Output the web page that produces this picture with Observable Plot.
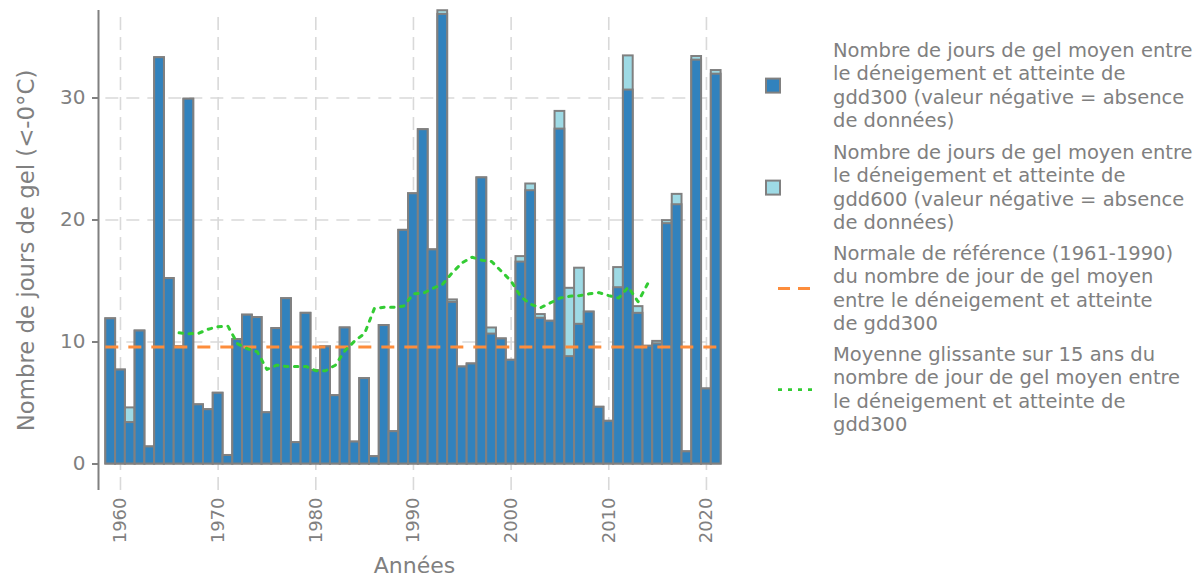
<!DOCTYPE html>
<html>
<head>
<meta charset="utf-8">
<script src="https://cdn.jsdelivr.net/npm/d3@7"></script>
<script src="https://cdn.jsdelivr.net/npm/@observablehq/plot@0.6"></script>
<style>
  html, body { margin: 0; padding: 0; background: #fff; }
  #wrap { position: relative; width: 1204px; height: 578px; font-family: "DejaVu Sans", sans-serif; }
  #legend { position: absolute; left: 0; top: 0; width: 1204px; height: 578px; pointer-events: none; }
  .lg { position: absolute; left: 833px; color: #808080; font-size: 19.5px; line-height: 23.3px; white-space: nowrap; }
  #legsym { position: absolute; left: 0; top: 0; }
</style>
</head>
<body>
<div id="wrap"></div>
<script>
// ---- data ----
const years = [1959,1960,1961,1962,1963,1964,1965,1966,1967,1968,1969,1970,1971,1972,1973,1974,1975,1976,1977,1978,1979,
  1980,1981,1982,1983,1984,1985,1986,1987,1988,1989,1990,1991,1992,1993,1994,1995,1996,1997,1998,1999,
  2000,2001,2002,2003,2004,2005,2006,2007,2008,2009,2010,2011,2012,2013,2014,2015,2016,2017,2018,2019,2020,2021];
const gdd300 = [11.9,7.7,3.4,10.9,1.4,33.3,15.2,9.6,29.9,4.85,4.45,5.8,0.7,10.2,12.2,12.0,4.2,11.1,13.55,1.75,12.35,
  7.65,9.6,5.6,11.15,1.8,7.0,0.6,11.35,2.65,19.15,22.15,27.4,17.55,36.85,13.25,7.95,8.2,23.45,10.65,10.25,
  8.5,16.55,22.4,11.95,11.7,27.45,8.8,11.45,12.45,4.65,3.5,14.45,30.65,12.35,9.65,9.85,19.7,21.25,1.0,33.1,6.15,31.95];
const gdd600 = [11.9,7.7,4.6,10.9,1.4,33.3,15.2,9.6,29.9,4.85,4.45,5.8,0.7,10.2,12.2,12.0,4.2,11.1,13.55,1.75,12.35,
  7.65,9.6,5.6,11.15,1.8,7.0,0.6,11.35,2.65,19.15,22.15,27.4,17.55,37.15,13.45,7.95,8.2,23.45,11.15,10.25,
  8.5,17.0,22.95,12.25,11.7,28.9,14.4,16.05,12.45,4.65,3.5,16.1,33.45,12.9,9.65,10.05,19.95,22.1,1.0,33.4,6.15,32.25];
const maYears = [1966,1967,1968,1969,1970,1971,1972,1973,1974,1975,1976,1977,1978,1979,1980,1981,1982,1983,1984,1985,
  1986,1987,1988,1989,1990,1991,1992,1993,1994,1995,1996,1997,1998,1999,2000,2001,2002,2003,2004,2005,
  2006,2007,2008,2009,2010,2011,2012,2013,2014];
const maValues = [10.75,10.67,10.72,11.05,11.25,11.3,9.85,9.45,9.2,7.75,8.1,8.0,8.0,8.0,7.65,7.65,8.1,9.3,10.1,10.7,
  12.75,12.85,12.85,12.95,13.95,14.0,14.4,14.75,15.7,16.5,16.95,16.7,16.6,15.8,15.0,13.7,13.1,12.8,13.2,13.6,
  13.75,13.8,13.95,14.05,13.8,13.6,14.5,13.3,14.8];
const normalValue = 9.6;
const yTicks = [0, 10, 20, 30];
const xTicks = [1960, 1970, 1980, 1990, 2000, 2010, 2020];
const yLabel = "Nombre de jours de gel (<-0°C)";
const xLabel = "Années";
const legendLabels = [
  ["Nombre de jours de gel moyen entre", "le déneigement et atteinte de", "gdd300 (valeur négative = absence", "de données)"],
  ["Nombre de jours de gel moyen entre", "le déneigement et atteinte de", "gdd600 (valeur négative = absence", "de données)"],
  ["Normale de référence (1961-1990)", "du nombre de jour de gel moyen", "entre le déneigement et atteinte", "de gdd300"],
  ["Moyenne glissante sur 15 ans du", "nombre de jour de gel moyen entre", "le déneigement et atteinte de", "gdd300"]
];
const colors = { gdd300: "#3182bd", gdd600: "#9edae5", normal: "#fd8d3c", ma: "#33cc33", outline: "#808080", grid: "#d9d9d9", text: "#808080" };

// ---- tables ----
const table = years.map((y, i) => ({ year: y, v300: gdd300[i], v600: gdd600[i] }));
const maTable = maYears.map((y, i) => ({ year: y, v: maValues[i] }));
const xFirst = years[0] - 0.5, xLast = years[years.length - 1] + 0.5;
const xDomain = [1957.75, 2021.85];
const yDomain = [-2.17, 37.17];

const chart = Plot.plot({
  width: 1204,
  height: 578,
  marginLeft: 98,
  marginRight: 480,
  marginTop: 10,
  marginBottom: 88,
  style: { fontFamily: "DejaVu Sans", color: colors.text, background: "white", overflow: "visible" },
  x: { domain: xDomain },
  y: { domain: yDomain },
  marks: [
    Plot.ruleX(xTicks, { y1: () => yDomain[0], y2: () => yDomain[1], stroke: colors.grid, strokeWidth: 1.6, strokeDasharray: "13,7" }),
    Plot.ruleY(yTicks.slice(1), { x1: () => xFirst, x2: () => xLast, stroke: colors.grid, strokeWidth: 1.6, strokeDasharray: "13,8" }),
    Plot.rect(table, { x1: d => d.year - 0.5, x2: d => d.year + 0.5, y1: () => 0, y2: "v600", fill: colors.gdd600, stroke: colors.outline, strokeWidth: 2 }),
    Plot.rect(table, { x1: d => d.year - 0.5, x2: d => d.year + 0.5, y1: () => 0, y2: "v300", fill: colors.gdd300, stroke: colors.outline, strokeWidth: 2 }),
    Plot.ruleY([normalValue], { x1: () => xFirst, x2: () => xLast, stroke: colors.normal, strokeWidth: 3, strokeDasharray: "13,10" }),
    Plot.line(maTable, { x: "year", y: "v", stroke: colors.ma, strokeWidth: 3, strokeDasharray: "3.5,6.5" }),
    Plot.ruleX([xDomain[0]], { y1: () => yDomain[0], y2: () => yDomain[1], stroke: colors.outline, strokeWidth: 2 }),
    Plot.axisY(yTicks, { tickSize: 6, tickPadding: 7, fontSize: 20, strokeWidth: 2, label: null }),
    Plot.axisX(xTicks, { tickSize: 0, tickPadding: 7, tickRotate: -90, fontSize: 18, label: null, tickFormat: d => String(d) }),
    Plot.text([yLabel], { text: d => d, frameAnchor: "left", textAnchor: "middle", lineAnchor: "middle", dx: -72, dy: 0, rotate: -90, fontSize: 22.8, fill: colors.text }),
    Plot.text([xLabel], { text: d => d, frameAnchor: "bottom", textAnchor: "middle", lineAnchor: "middle", dx: 3, dy: 75, fontSize: 22, fill: colors.text })
  ]
});

const wrap = document.getElementById("wrap");
wrap.appendChild(chart);

// ---- legend ----
const legend = document.createElement("div");
legend.id = "legend";
const blockTops = [39, 141, 242, 343];
legendLabels.forEach((lines, i) => {
  const d = document.createElement("div");
  d.className = "lg";
  d.style.top = blockTops[i] + "px";
  d.innerHTML = lines.map(l => l.replace(/&/g, "&amp;").replace(/</g, "&lt;")).join("<br>");
  legend.appendChild(d);
});
const ns = "http://www.w3.org/2000/svg";
const sym = document.createElementNS(ns, "svg");
sym.setAttribute("id", "legsym");
sym.setAttribute("width", "1204");
sym.setAttribute("height", "578");
function el(tag, attrs) { const e = document.createElementNS(ns, tag); for (const k in attrs) e.setAttribute(k, attrs[k]); sym.appendChild(e); return e; }
const centers = blockTops.map(t => t + 2 * 23.3);
el("rect", { x: 766, y: centers[0] - 7, width: 14, height: 14, fill: colors.gdd300, stroke: colors.outline, "stroke-width": 2 });
el("rect", { x: 766, y: centers[1] - 7, width: 14, height: 14, fill: colors.gdd600, stroke: colors.outline, "stroke-width": 2 });
el("line", { x1: 778, x2: 810, y1: centers[2], y2: centers[2], stroke: colors.normal, "stroke-width": 3, "stroke-dasharray": "12,8" });
el("line", { x1: 778, x2: 813, y1: centers[3], y2: centers[3], stroke: colors.ma, "stroke-width": 2.6, "stroke-dasharray": "4,6" });
legend.appendChild(sym);
wrap.appendChild(legend);
</script>
</body>
</html>
